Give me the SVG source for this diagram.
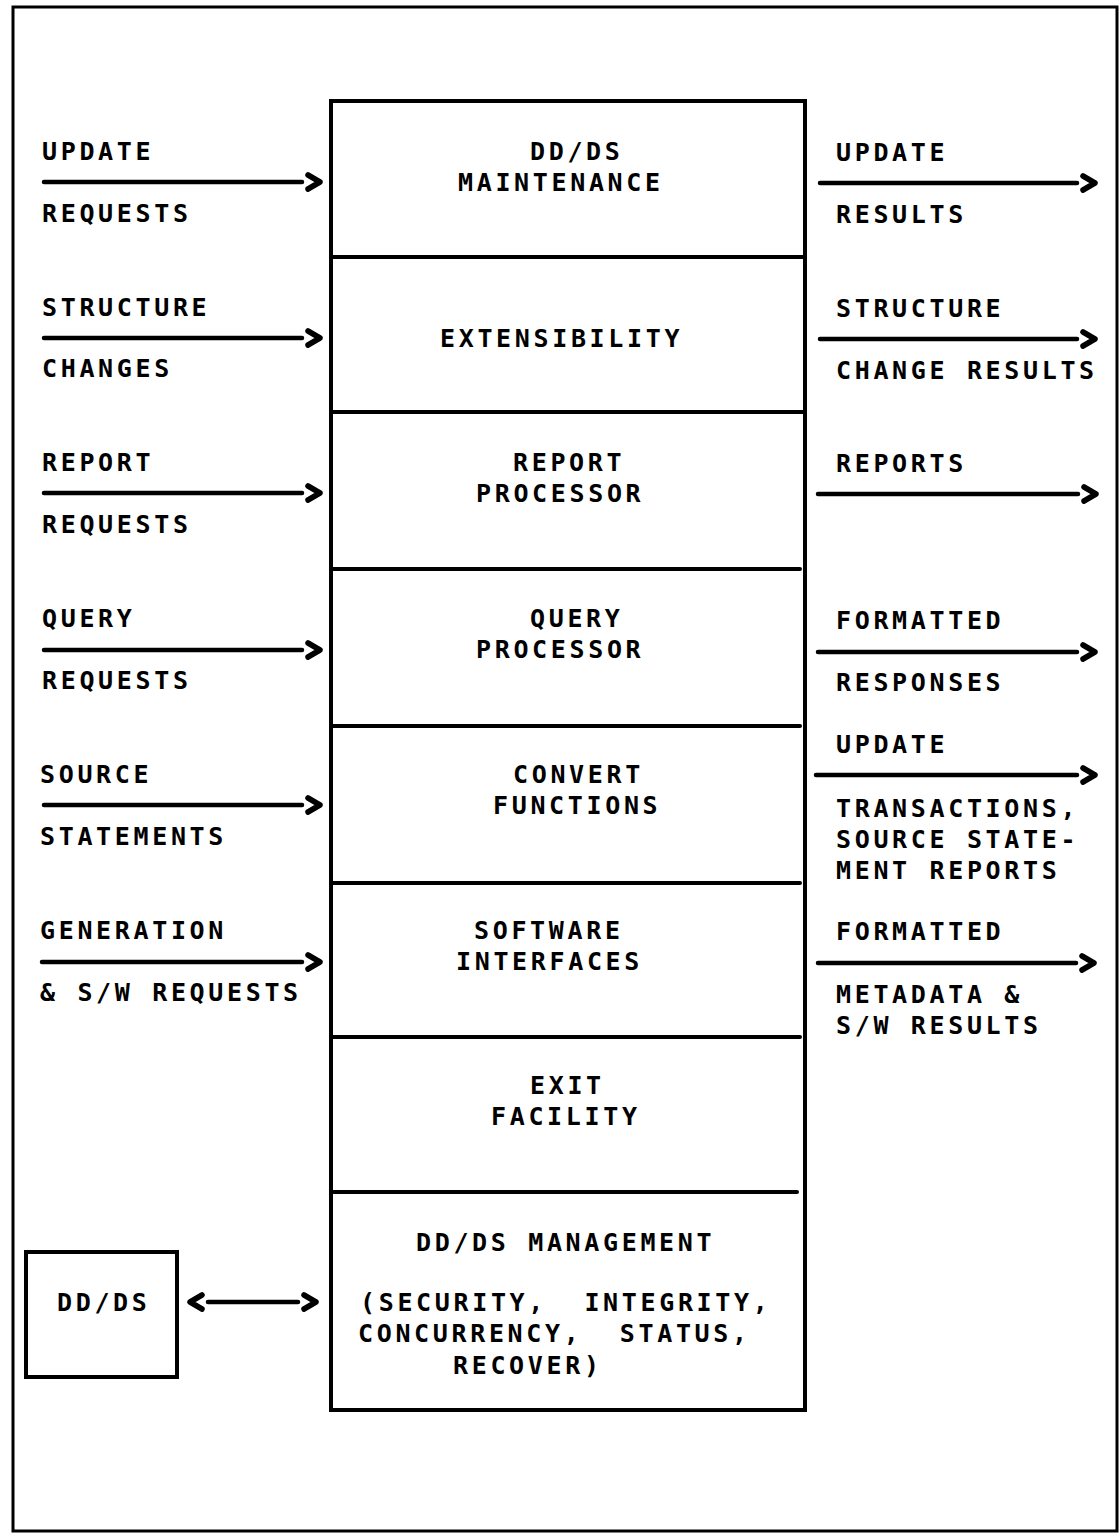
<svg xmlns="http://www.w3.org/2000/svg" width="1120" height="1534" viewBox="0 0 1120 1534">
<style>
text{font-family:"DejaVu Sans Mono","Liberation Mono",monospace;font-weight:bold;font-size:25px;letter-spacing:3.65px;fill:#000;white-space:pre}
.box{fill:none;stroke:#000;stroke-width:4}
.div{stroke:#000;stroke-width:4;stroke-linecap:round}
.arr{stroke:#000;stroke-width:4.5;stroke-linecap:round;fill:none;marker-end:url(#chev)}
.dbl{stroke:#000;stroke-width:4.5;stroke-linecap:round;fill:none;marker-end:url(#chev);marker-start:url(#chev)}
</style>
<defs>
<marker id="chev" markerUnits="userSpaceOnUse" viewBox="-2 -12 30 24" markerWidth="30" markerHeight="24" refX="0" refY="0" orient="auto-start-reverse" overflow="visible">
<path d="M6,-7 L18,0 L6,7" fill="none" stroke="#000" stroke-width="5.5" stroke-linecap="round" stroke-linejoin="round"/>
</marker>
</defs>
<rect width="1120" height="1534" fill="#fff"/>
<rect x="13" y="7" width="1104" height="1524" fill="none" stroke="#000" stroke-width="3"/>

<g id="system">
<rect class="box" x="331" y="101" width="474" height="1309"/>
<line class="div" x1="333" y1="257" x2="803" y2="257"/>
<line class="div" x1="333" y1="412" x2="803" y2="412"/>
<line class="div" x1="333" y1="569" x2="800" y2="569"/>
<line class="div" x1="333" y1="726" x2="800" y2="726"/>
<line class="div" x1="333" y1="883" x2="800" y2="883"/>
<line class="div" x1="333" y1="1037" x2="800" y2="1037"/>
<line class="div" x1="333" y1="1192" x2="797" y2="1192"/>
</g>
<g id="maint"><text x="530" y="160">DD/DS</text><text x="458" y="191">MAINTENANCE</text></g>
<g id="ext"><text x="440" y="347">EXTENSIBILITY</text></g>
<g id="report"><text x="513" y="471">REPORT</text><text x="476" y="502">PROCESSOR</text></g>
<g id="query"><text x="530" y="627">QUERY</text><text x="476" y="658">PROCESSOR</text></g>
<g id="convert"><text x="513" y="783">CONVERT</text><text x="493" y="814">FUNCTIONS</text></g>
<g id="software"><text x="474" y="939">SOFTWARE</text><text x="456" y="970">INTERFACES</text></g>
<g id="exit"><text x="530" y="1094">EXIT</text><text x="491" y="1125">FACILITY</text></g>
<g id="mgmt"><text x="416" y="1251">DD/DS MANAGEMENT</text><text x="360" y="1311">(SECURITY,  INTEGRITY,</text><text x="358" y="1342">CONCURRENCY,  STATUS,</text><text x="453" y="1374">RECOVER)</text></g>
<g id="ddds"><rect class="box" x="26" y="1252" width="151" height="125"/><text x="57" y="1311">DD/DS</text></g>

<g id="connectors">
<line class="arr" x1="44" y1="182" x2="302" y2="182"/>
<line class="arr" x1="44" y1="338" x2="302" y2="338"/>
<line class="arr" x1="44" y1="493" x2="302" y2="493"/>
<line class="arr" x1="44" y1="650" x2="302" y2="650"/>
<line class="arr" x1="44" y1="805" x2="302" y2="805"/>
<line class="arr" x1="42" y1="962" x2="302" y2="962"/>
<line class="arr" x1="820" y1="183" x2="1077" y2="183"/>
<line class="arr" x1="820" y1="339" x2="1077" y2="339"/>
<line class="arr" x1="818" y1="494" x2="1078" y2="494"/>
<line class="arr" x1="818" y1="652" x2="1077" y2="652"/>
<line class="arr" x1="816" y1="775" x2="1077" y2="775"/>
<line class="arr" x1="818" y1="963" x2="1076" y2="963"/>
<line class="dbl" x1="208" y1="1302" x2="298" y2="1302"/>
</g>

<g id="labels">
<text x="42" y="160">UPDATE</text><text x="42" y="222">REQUESTS</text>
<text x="42" y="316">STRUCTURE</text><text x="42" y="377">CHANGES</text>
<text x="42" y="471">REPORT</text><text x="42" y="533">REQUESTS</text>
<text x="42" y="627">QUERY</text><text x="42" y="689">REQUESTS</text>
<text x="40" y="783">SOURCE</text><text x="40" y="845">STATEMENTS</text>
<text x="40" y="939">GENERATION</text><text x="40" y="1001">&amp; S/W REQUESTS</text>
<text x="836" y="161">UPDATE</text><text x="836" y="223">RESULTS</text>
<text x="836" y="317">STRUCTURE</text><text x="836" y="379">CHANGE RESULTS</text>
<text x="836" y="472">REPORTS</text>
<text x="836" y="629">FORMATTED</text><text x="836" y="691">RESPONSES</text>
<text x="836" y="753">UPDATE</text><text x="836" y="817">TRANSACTIONS,</text><text x="836" y="848">SOURCE STATE-</text><text x="836" y="879">MENT REPORTS</text>
<text x="836" y="940">FORMATTED</text><text x="836" y="1003">METADATA &amp;</text><text x="836" y="1034">S/W RESULTS</text>
</g>
</svg>
